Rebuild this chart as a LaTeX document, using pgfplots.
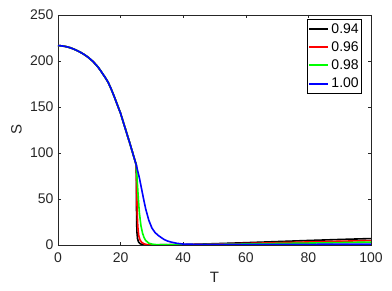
\documentclass[border=0pt]{standalone}
\usepackage{fontspec}
\setmainfont{Liberation Sans}
\usepackage{pgfplots}
\pgfplotsset{compat=1.18}
\newcommand{\shared}{(0,216.8) (1,216.5) (2,216) (3,215.3) (4,214.3) (5,213) (6,211.5) (7,209.8) (8,207.8) (9,205.6) (10,203) (11,200) (12,196.5) (13,192.5) (14,187.5) (15,182.5) (16,177) (17,169.5) (18,161) (19,152) (20,143) (21,132) (22,121) (23,110) (24,98.5) (25,87)}
\definecolor{axgray}{gray}{0.15}
\begin{document}
\begin{tikzpicture}
\begin{axis}[
  scale only axis, width=313pt, height=230pt,
  xmin=0, xmax=100, ymin=0, ymax=250,
  xtick={0,20,...,100}, ytick={0,50,...,250},
  tick align=inside, major tick length=3pt,
  axis line style={draw=axgray, line width=0.5pt},
  every tick/.style={draw=axgray, line width=0.5pt},
  font=\fontsize{14}{16}\selectfont,
  /pgf/number format/assume math mode=true,
  tick label style={font=\fontsize{14}{16}\selectfont, text=axgray},
  xticklabel style={yshift=-4pt},
  yticklabel style={xshift=-1pt},
  xlabel={T}, ylabel={S},
  xlabel style={at={(rel axis cs:0.5,0)}, anchor=center, yshift=-32pt, font=\fontsize{15}{17}\selectfont, text=axgray},
  ylabel style={at={(rel axis cs:0,0.5)}, anchor=center, yshift=41.5pt, font=\fontsize{15}{17}\selectfont, text=axgray},
  legend style={at={(1,1)}, anchor=north east, xshift=-9pt, yshift=-4pt,
    font=\fontsize{14}{16}\selectfont, draw=black, line width=0.5pt,
    inner sep=1pt, row sep=3pt, inner ysep=2pt},
  legend cell align=left,
  legend image code/.code={\draw[#1, line width=2pt] (0pt,0pt) -- (19pt,0pt);},
]
\coordinate (sw) at (rel axis cs:0,0);
\addplot[black, line width=1.6pt] coordinates {\shared (25.05,60) (25.1,35) (25.2,15) (25.4,7) (25.7,3.5) (26.2,1.5) (27,0.4) (28,0.1) (40,0.4) (50,1.4) (60,2.5) (70,3.7) (80,4.9) (90,6.0) (100,7.0)};
\addlegendentry{0.94}
\addplot[red, line width=1.6pt] coordinates {\shared (25.15,60) (25.3,35) (25.5,20) (25.8,10) (26.2,5.5) (26.7,3) (27.5,1.2) (28.5,0.4) (30,0.1) (40,0.3) (50,0.9) (60,1.7) (70,2.5) (80,3.3) (90,4.1) (100,4.8)};
\addlegendentry{0.96}
\addplot[green, line width=1.6pt] coordinates {\shared (25.3,70) (25.7,49) (26,35) (26.5,21) (27,13) (27.5,8) (28,5) (29,2) (30,1) (31,0.5) (35,0.2) (40,0.3) (50,0.6) (60,1.1) (70,1.6) (80,2.1) (90,2.6) (100,3.2)};
\addlegendentry{0.98}
\addplot[blue, line width=1.6pt] coordinates {\shared (25.5,80) (26,73) (26.5,64.5) (27,56) (27.5,47.5) (28,39.5) (29,27) (30,18.5) (31,13.5) (32,10.5) (33,8) (34,5.8) (35,4.3) (36,3.3) (38,1.8) (40,1.0) (45,0.6) (50,0.5) (60,0.5) (70,0.6) (80,0.7) (90,0.9) (100,1.0)};
\addlegendentry{1.00}
\end{axis}
\pgfresetboundingbox
\path (sw) ++(-58pt,-46pt) rectangle ++(392pt,291pt);
\end{tikzpicture}
\end{document}
